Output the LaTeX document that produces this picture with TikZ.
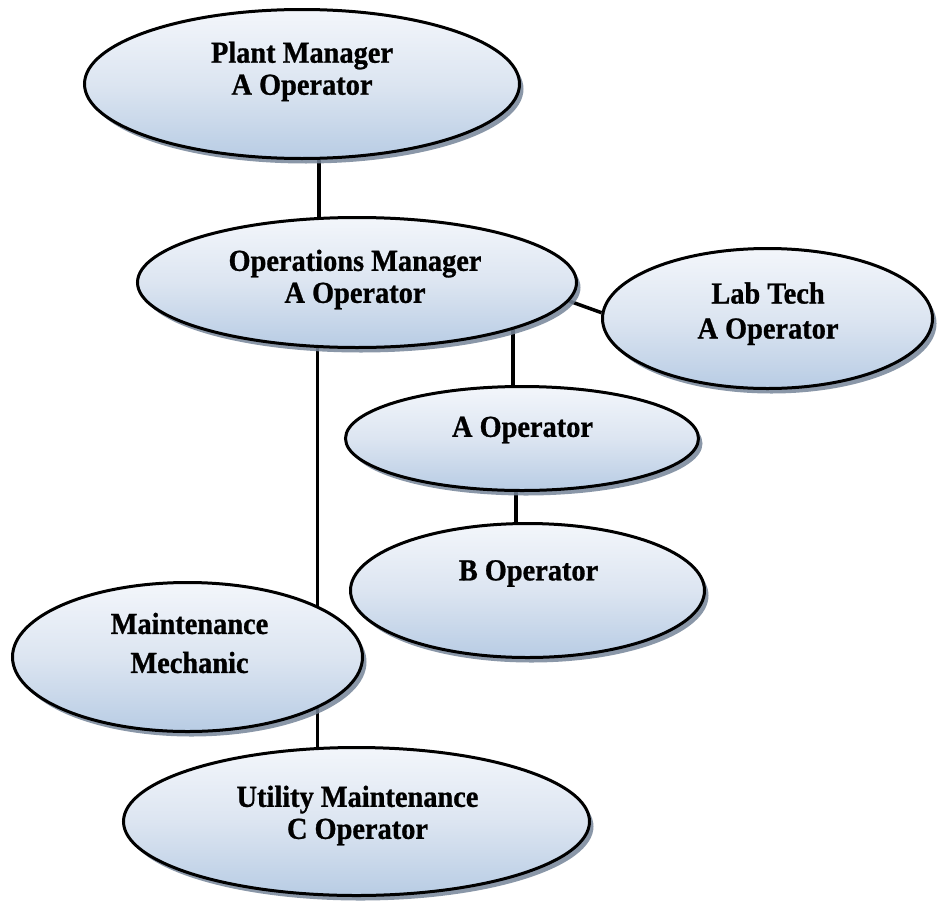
\documentclass[tikz,border=0pt]{standalone}
\usepackage{fontspec}
\setmainfont{Liberation Serif}
\newfontfamily\lblfont[FakeStretch=0.93,FakeBold=0.9]{Liberation Serif}
\usetikzlibrary{shapes.geometric,shadows,backgrounds}
\definecolor{topc}{RGB}{243,246,251}
\definecolor{midc}{RGB}{220,229,241}
\definecolor{botc}{RGB}{184,204,228}
\definecolor{shadc}{RGB}{118,133,153}
\tikzset{
  oval/.style={ellipse, draw=black, line width=3pt, top color=topc, bottom color=botc, middle color=midc,
    drop shadow={shadow xshift=4pt, shadow yshift=-5pt, fill=shadc, opacity=0.85}, inner sep=0pt},
  lbl/.style={font=\lblfont\bfseries\fontsize{30.5}{32}\selectfont, align=center, inner sep=0pt},
  conn/.style={line width=3.5pt, draw=black}
}
\begin{document}
\begin{tikzpicture}[x=1pt, y=-1pt]
\useasboundingbox (0,0) rectangle (941,902);
% ellipses
\node[oval, minimum width=435pt, minimum height=149pt] (plant) at (302,84) {};
\node[oval, minimum width=439pt, minimum height=130pt] (ops) at (357,282.5) {};
\node[oval, minimum width=330pt, minimum height=140pt] (lab) at (767.5,318.5) {};
\node[oval, minimum width=353pt, minimum height=104pt] (aop) at (522,438.5) {};
\node[oval, minimum width=354pt, minimum height=134pt] (bop) at (527.5,590.5) {};
\node[oval, minimum width=350pt, minimum height=149pt] (maint) at (187.5,657) {};
\node[oval, minimum width=466pt, minimum height=148pt] (util) at (356.5,821.5) {};
% texts
\node[lbl] (plantt) at (302,71.4) {Plant Manager\\A Operator};
\node[lbl] (opst) at (355,279.5) {Operations Manager\\A Operator};
\node[lbl, font=\lblfont\bfseries\fontsize{30.5}{35}\selectfont] (labt) at (768,313.7) {Lab Tech\\A Operator};
\node[lbl] (aopt) at (522.5,430) {A Operator};
\node[lbl] (bopt) at (528.5,573.5) {B Operator};
\node[lbl, font=\lblfont\bfseries\fontsize{30.5}{39}\selectfont] (maintt) at (189.5,643) {Maintenance\\Mechanic};
\node[lbl] (utilt) at (357.5,815.5) {Utility Maintenance\\C Operator};
% connectors
\begin{scope}[on background layer]
  \draw[conn] ([xshift=17pt]plant.center) -- ([xshift=17pt]plant.center |- ops.center);
  \draw[conn] (ops.-5) -- (lab.178);
  \draw[conn] ([xshift=-9pt]aop.center |- ops.center) -- ([xshift=-9pt]aop.center);
  \draw[conn] ([xshift=-11.5pt]bop.center |- aop.center) -- ([xshift=-11.5pt]bop.center);
  \draw[conn] ([xshift=-39pt]util.center |- ops.center) -- ([xshift=-39pt]util.center);
\end{scope}
\end{tikzpicture}
\end{document}
